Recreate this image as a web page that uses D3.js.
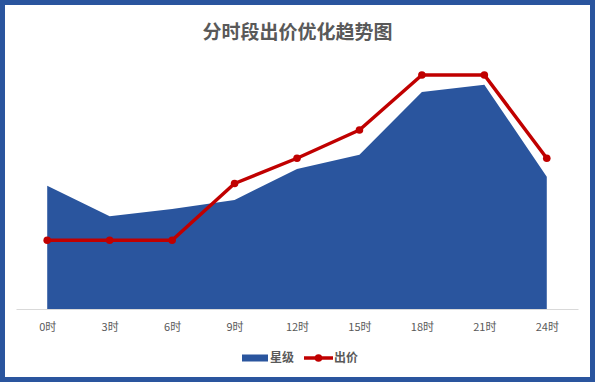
<!DOCTYPE html>
<html><head><meta charset="utf-8">
<script src="https://cdn.jsdelivr.net/npm/d3@7"></script>
<style>html,body{margin:0;padding:0;background:#fff;}svg{display:block;}</style>
</head><body>
<svg id="c" width="595" height="382"></svg>
<script>
const title = "分时段出价优化趋势图";
const categories = ["0时","3时","6时","9时","12时","15时","18时","21时","24时"];
const starValues = [49.3, 37.1, 40.0, 43.6, 56.0, 61.7, 86.8, 89.7, 52.9];
const bidValues  = [27.5, 27.5, 27.5, 50.2, 60.3, 71.6, 93.6, 93.6, 60.3];
const seriesNames = ["星级", "出价"];

const blue = "#2A559E", red = "#C00000", gray = "#595959";
const svg = d3.select("#c");
const W = 595, H = 382;
const font = "'Noto Sans CJK SC','Noto Sans',sans-serif";

svg.append("rect").attr("x", 2.5).attr("y", 2.5).attr("width", W - 5).attr("height", H - 5)
  .attr("fill", "#fff").attr("stroke", blue).attr("stroke-width", 5);

svg.append("text").attr("x", 297.5).attr("y", 39).attr("text-anchor", "middle")
  .attr("font-family", font).attr("font-size", 19).attr("font-weight", "bold")
  .attr("fill", gray).text(title);

const x = d3.scalePoint().domain(categories).range([16, 578]).padding(0.5);
const y = d3.scaleLinear().domain([0, 100]).range([309, 59]);

const area = d3.area().x((d, i) => x(categories[i])).y0(y(0)).y1(d => y(d));
svg.append("path").datum(starValues).attr("d", area).attr("fill", blue);

const axis = d3.axisBottom(x).tickSize(0).tickSizeOuter(0).tickPadding(14);
const g = svg.append("g").attr("transform", `translate(0,${y(0)})`).call(axis);
g.select(".domain").attr("stroke", "#D9D9D9").attr("stroke-width", 1);
g.selectAll("text").attr("font-family", font).attr("font-size", 11).attr("fill", gray);

const line = d3.line().x((d, i) => x(categories[i])).y(d => y(d));
svg.append("path").datum(bidValues).attr("d", line).attr("fill", "none")
  .attr("stroke", red).attr("stroke-width", 3.5).attr("stroke-linejoin", "round");
svg.selectAll("circle.m").data(bidValues).enter().append("circle").attr("class", "m")
  .attr("cx", (d, i) => x(categories[i])).attr("cy", d => y(d)).attr("r", 3.8).attr("fill", red);

// legend
const ly = 358;
svg.append("rect").attr("x", 242).attr("y", ly - 3.5).attr("width", 26).attr("height", 7).attr("fill", blue);
svg.append("text").attr("x", 270).attr("y", ly).attr("dy", "0.35em").attr("font-family", font)
  .attr("font-size", 12).attr("font-weight", "bold").attr("fill", gray).text(seriesNames[0]);
svg.append("line").attr("x1", 304).attr("x2", 333).attr("y1", ly).attr("y2", ly)
  .attr("stroke", red).attr("stroke-width", 3.5);
svg.append("circle").attr("cx", 318.5).attr("cy", ly).attr("r", 3.8).attr("fill", red);
svg.append("text").attr("x", 334).attr("y", ly).attr("dy", "0.35em").attr("font-family", font)
  .attr("font-size", 12).attr("font-weight", "bold").attr("fill", gray).text(seriesNames[1]);
</script>
</body></html>
